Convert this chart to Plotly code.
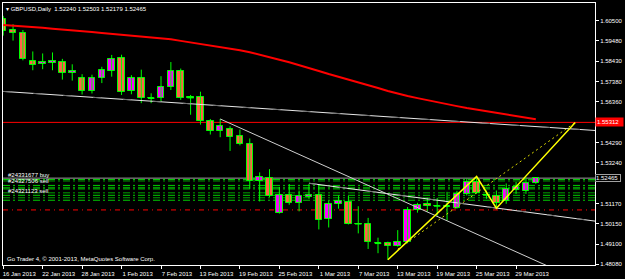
import plotly.graph_objects as go

symbol = "GBPUSD"
timeframe = "Daily"

date_label_bars = [0, 4, 8, 12, 16, 20, 24, 28, 32, 36, 40, 44, 48, 52]
date_labels = ["16 Jan 2013", "22 Jan 2013", "28 Jan 2013", "1 Feb 2013", "7 Feb 2013",
               "13 Feb 2013", "19 Feb 2013", "25 Feb 2013", "1 Mar 2013", "7 Mar 2013",
               "13 Mar 2013", "19 Mar 2013", "25 Mar 2013", "29 Mar 2013"]

opens = [1.60601, 1.60020, 1.59869, 1.58429, 1.58278, 1.58354, 1.58405, 1.57849, 1.57571, 1.56915,
         1.57596, 1.57925, 1.58607, 1.56890, 1.57556, 1.56546, 1.56546, 1.57132, 1.57925, 1.56576,
         1.56597, 1.55365, 1.54870, 1.54981, 1.54607, 1.54224, 1.52335, 1.52454, 1.50689, 1.51614,
         1.51193, 1.51497, 1.51614, 1.50366, 1.51143, 1.51244, 1.50134, 1.50099, 1.49137, 1.49137,
         1.49021, 1.49223, 1.50825, 1.51158, 1.51042, 1.51007, 1.50941, 1.51663, 1.52284, 1.51614,
         1.51578, 1.51275, 1.51881, 1.51814, 1.52240]
highs = [1.60752, 1.60323, 1.60030, 1.58934, 1.58833, 1.58884, 1.58556, 1.58278, 1.57773, 1.57748,
         1.58152, 1.58758, 1.58768, 1.57723, 1.58005, 1.56798, 1.57672, 1.58394, 1.58061, 1.56713,
         1.56880, 1.55486, 1.55486, 1.55115, 1.54946, 1.54492, 1.52759, 1.52922, 1.52018, 1.52167,
         1.51831, 1.52167, 1.52118, 1.51314, 1.51578, 1.51562, 1.51032, 1.50435, 1.49425, 1.49223,
         1.49810, 1.50992, 1.51204, 1.51461, 1.51456, 1.51764, 1.51815, 1.52446, 1.52547, 1.51831,
         1.51831, 1.52193, 1.52269, 1.52501, 1.52503]
lows = [1.59743, 1.59490, 1.58480, 1.57975, 1.58026, 1.57975, 1.57496, 1.57445, 1.56738, 1.56789,
        1.57319, 1.57647, 1.56713, 1.56749, 1.56294, 1.56294, 1.56375, 1.56965, 1.56460, 1.55703,
        1.55197, 1.54693, 1.54556, 1.53855, 1.54138, 1.51917, 1.51275, 1.51494, 1.50653, 1.51108,
        1.50770, 1.51411, 1.49845, 1.49946, 1.50905, 1.50099, 1.49644, 1.48850, 1.48632, 1.48294,
        1.48968, 1.49137, 1.50703, 1.50754, 1.50552, 1.50300, 1.50905, 1.51578, 1.51663, 1.51411,
        1.50931, 1.51158, 1.51663, 1.51663, 1.52179]
closes = [1.59995, 1.59869, 1.58531, 1.58253, 1.58379, 1.58429, 1.57849, 1.57950, 1.56915, 1.57596,
          1.57975, 1.58531, 1.56849, 1.57571, 1.56546, 1.56561, 1.57101, 1.57940, 1.56546, 1.56586,
          1.55365, 1.54896, 1.55148, 1.54577, 1.54224, 1.52335, 1.52537, 1.51578, 1.51614, 1.51193,
          1.51548, 1.51614, 1.50351, 1.51158, 1.51275, 1.50134, 1.50124, 1.49188, 1.49142, 1.49021,
          1.49223, 1.50825, 1.51077, 1.51042, 1.51052, 1.51032, 1.51663, 1.52254, 1.51713, 1.51604,
          1.51208, 1.51916, 1.52032, 1.52218, 1.52465]

ma_values = [1.60288, 1.60258, 1.60227, 1.60202, 1.60146, 1.60096, 1.60061, 1.60010, 1.59965, 1.59924,
             1.59879, 1.59838, 1.59798, 1.59758, 1.59707, 1.59662, 1.59611, 1.59556, 1.59475, 1.59399,
             1.59323, 1.59248, 1.59177, 1.59101, 1.59000, 1.58894, 1.58778, 1.58657, 1.58515, 1.58379,
             1.58243, 1.58091, 1.57940, 1.57783, 1.57632, 1.57495, 1.57359, 1.57212, 1.57066, 1.56919,
             1.56778, 1.56662, 1.56551, 1.56440, 1.56334, 1.56238, 1.56142, 1.56046, 1.55960, 1.55884,
             1.55813, 1.55728, 1.55647, 1.55561, 1.55470]

price_ticks = [1.60500, 1.59480, 1.58430, 1.57380, 1.56360, 1.54290, 1.53240,
               1.51170, 1.50150, 1.49100, 1.48080]

alert_level = 1.55312

# trend lines: (bar, price) pairs
white_line_a = ([0, 61], [1.56894, 1.54866])
white_line_b = ([22, 62], [1.55486, 1.46442])
white_line_c = ([31, 61], [1.52205, 1.50204])
yellow_zigzag = ([39, 48, 50, 58], [1.48294, 1.52547, 1.50933, 1.55312])
yellow_dotted = ([40, 58], [1.48838, 1.55312])

order_labels = ["#24331677 buy", "#24327506 sell", "#24321123 sell"]
order_prices = [1.52397, 1.52094, 1.51589]
green_levels = [1.52397, 1.52321, 1.52094, 1.51993, 1.51917, 1.51715, 1.51589, 1.51463, 1.51337]
stop_level = 1.50842

copyright_text = "Go Trader 4, \u00a9 2001-2013, MetaQuotes Software Corp."

bars = list(range(len(opens)))
FONT = "Liberation Sans"
BULL = "#FF00FF"
BEAR = "#FF6347"
OUTLINE = "#00FF00"
BODY_W = 0.66

fig = go.Figure()

# wicks
wx, wy = [], []
for i in bars:
    wx += [i, i, None]
    wy += [lows[i], highs[i], None]
fig.add_trace(go.Scatter(x=wx, y=wy, mode="lines", line=dict(color=OUTLINE, width=1), hoverinfo="skip"))

# bodies
bottoms = [min(o, c) for o, c in zip(opens, closes)]
heights = [abs(c - o) for o, c in zip(opens, closes)]
colors = [BULL if c > o else BEAR for o, c in zip(opens, closes)]
fig.add_trace(go.Bar(x=bars, y=heights, base=bottoms, width=BODY_W,
                     marker=dict(color=colors, line=dict(color=OUTLINE, width=1)), hoverinfo="skip"))

# doji cross bars
dx, dy = [], []
for i in bars:
    if heights[i] < 0.00025:
        dx += [i - BODY_W / 2, i + BODY_W / 2, None]
        dy += [opens[i], opens[i], None]
fig.add_trace(go.Scatter(x=dx, y=dy, mode="lines", line=dict(color=OUTLINE, width=1.5), hoverinfo="skip"))

fig.add_trace(go.Scatter(x=bars, y=ma_values, mode="lines",
                         line=dict(color="#FF0000", width=2), hoverinfo="skip"))

for xs, ys in (white_line_a, white_line_c):
    fig.add_trace(go.Scatter(x=xs, y=ys, mode="lines", line=dict(color="#E8E8E8", width=1), hoverinfo="skip"))
    fig.add_trace(go.Scatter(x=xs, y=ys, mode="lines",
                             line=dict(color="#6E6E6E", width=1, dash="8px,22px"), hoverinfo="skip"))
fig.add_trace(go.Scatter(x=white_line_b[0], y=white_line_b[1], mode="lines",
                         line=dict(color="#D0D0D0", width=1), hoverinfo="skip"))

fig.add_trace(go.Scatter(x=yellow_dotted[0], y=yellow_dotted[1], mode="lines",
                         line=dict(color="#D8D800", width=1, dash="2px,3px"), hoverinfo="skip"))
fig.add_trace(go.Scatter(x=yellow_zigzag[0], y=yellow_zigzag[1], mode="lines",
                         line=dict(color="#FFFF00", width=1.5), hoverinfo="skip"))

shapes = []
shapes.append(dict(type="line", xref="paper", x0=0, x1=1, yref="y", y0=alert_level, y1=alert_level,
                   line=dict(color="#FF0000", width=1), layer="below"))
shapes.append(dict(type="line", xref="paper", x0=0, x1=1, yref="y", y0=closes[-1], y1=closes[-1],
                   line=dict(color="#A0A0A0", width=1), layer="below"))
for i, lv in enumerate(green_levels):
    shapes.append(dict(type="line", xref="paper", x0=0, x1=1, yref="y", y0=lv, y1=lv,
                       line=dict(color="#00A000" if i % 2 else "#00D000", width=1,
                                 dash="7px,3px,2px,3px"), layer="below"))
shapes.append(dict(type="line", xref="paper", x0=0, x1=1, yref="y", y0=stop_level, y1=stop_level,
                   line=dict(color="#FF0000", width=1, dash="5px,4px,1px,4px"), layer="below"))

annotations = []
title = "\u25BE " + symbol + "," + timeframe + "\u00a0\u00a0" + " ".join(
    f"{v:.5f}" for v in (opens[-1], highs[-1], lows[-1], closes[-1]))
annotations.append(dict(xref="paper", yref="paper", x=0, y=1, xanchor="left", yanchor="top",
                        xshift=1, yshift=-1, text=title, showarrow=False,
                        font=dict(family=FONT, size=6, color="white")))
annotations.append(dict(xref="paper", yref="paper", x=0, y=0, xanchor="left", yanchor="bottom",
                        xshift=2, yshift=1, text=copyright_text, showarrow=False,
                        font=dict(family=FONT, size=6, color="white")))
for lab, p in zip(order_labels, order_prices):
    annotations.append(dict(xref="paper", yref="y", x=0, y=p, xanchor="left", yanchor="bottom",
                            xshift=3, yshift=-1, text=lab, showarrow=False,
                            font=dict(family=FONT, size=6, color="white")))
annotations.append(dict(xref="paper", yref="y", x=1, y=alert_level, xanchor="left", yanchor="middle",
                        xshift=0, text=f"{alert_level:.5f}", showarrow=False, bgcolor="#FF0000",
                        borderpad=1, width=25, align="left",
                        font=dict(family=FONT, size=6, color="white")))
annotations.append(dict(xref="paper", yref="y", x=1, y=closes[-1], xanchor="left", yanchor="middle",
                        xshift=0, text=f"{closes[-1]:.5f}", showarrow=False, bgcolor="#000000",
                        bordercolor="#A0A0A0", borderwidth=1, borderpad=0, width=24, align="left",
                        font=dict(family=FONT, size=6, color="white")))

fig.update_layout(
    width=625, height=279, margin=dict(l=2, r=27, t=2, b=12),
    paper_bgcolor="black", plot_bgcolor="black", showlegend=False, bargap=0,
    font=dict(family=FONT, size=6, color="white"),
    shapes=shapes, annotations=annotations,
    xaxis=dict(range=[-0.02, 60.0], showgrid=False, zeroline=False, showline=True, mirror=True,
               linecolor="white", linewidth=1, tickvals=date_label_bars, ticktext=date_labels,
               ticks="outside", ticklen=3, tickcolor="white", ticklabelshift=16,
               tickfont=dict(family=FONT, size=6, color="white"), fixedrange=True),
    yaxis=dict(range=[1.480297, 1.614088], side="right", showgrid=False, zeroline=False,
               showline=True, mirror=True, linecolor="white", linewidth=1,
               tickvals=price_ticks, ticktext=[f"{v:.5f}" for v in price_ticks],
               ticks="outside", ticklen=3, tickcolor="white",
               tickfont=dict(family=FONT, size=6, color="white"), fixedrange=True),
)

fig.write_html("out.html")
